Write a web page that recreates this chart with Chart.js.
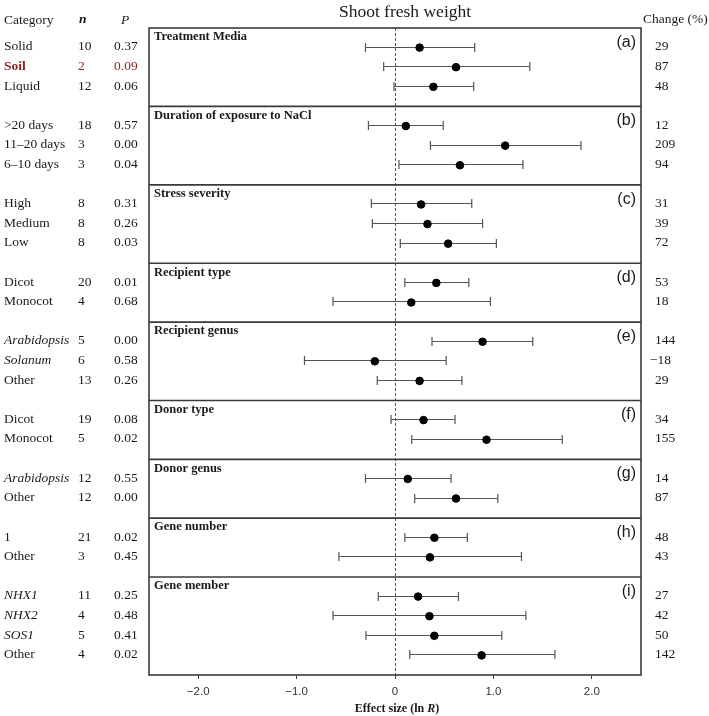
<!DOCTYPE html>
<html>
<head>
<meta charset="utf-8">
<script src="https://cdn.jsdelivr.net/npm/chart.js@4"></script>
<style>
  body { margin: 0; background: #fff; }
</style>
</head>
<body>
<canvas id="chart" width="709" height="716"></canvas>
<script>
// panels of the forest plot
const panelTitles = ['Treatment Media', 'Duration of exposure to NaCl', 'Stress severity', 'Recipient type',
  'Recipient genus', 'Donor type', 'Donor genus', 'Gene number', 'Gene member'];
const panelLetters = ['(a)', '(b)', '(c)', '(d)', '(e)', '(f)', '(g)', '(h)', '(i)'];
const panelSizes = [3, 3, 3, 2, 3, 2, 2, 2, 4];

// one entry per row, top to bottom
const categories = ['Solid', 'Soil', 'Liquid', '>20 days', '11\u201320 days', '6\u201310 days', 'High', 'Medium', 'Low',
  'Dicot', 'Monocot', 'Arabidopsis', 'Solanum', 'Other', 'Dicot', 'Monocot', 'Arabidopsis', 'Other',
  '1', 'Other', 'NHX1', 'NHX2', 'SOS1', 'Other'];
const nValues = [10, 2, 12, 18, 3, 3, 8, 8, 8, 20, 4, 5, 6, 13, 19, 5, 12, 12, 21, 3, 11, 4, 5, 4];
const pValues = ['0.37', '0.09', '0.06', '0.57', '0.00', '0.04', '0.31', '0.26', '0.03', '0.01', '0.68', '0.00',
  '0.58', '0.26', '0.08', '0.02', '0.55', '0.00', '0.02', '0.45', '0.25', '0.48', '0.41', '0.02'];
const effectSize = [0.25, 0.62, 0.39, 0.11, 1.12, 0.66, 0.265, 0.33, 0.54, 0.42, 0.165, 0.89, -0.205, 0.25,
  0.29, 0.93, 0.13, 0.62, 0.40, 0.355, 0.235, 0.35, 0.40, 0.88];
const ciLow = [-0.30, -0.115, -0.01, -0.27, 0.36, 0.04, -0.24, -0.23, 0.054, 0.10, -0.63, 0.376, -0.92, -0.18,
  -0.04, 0.17, -0.30, 0.20, 0.10, -0.57, -0.17, -0.63, -0.295, 0.15];
const ciHigh = [0.81, 1.37, 0.80, 0.49, 1.89, 1.30, 0.78, 0.89, 1.03, 0.75, 0.97, 1.40, 0.52, 0.68,
  0.61, 1.70, 0.57, 1.045, 0.735, 1.285, 0.645, 1.33, 1.085, 1.625];
const changePct = ['29', '87', '48', '12', '209', '94', '31', '39', '72', '53', '18', '144', '\u221218', '29',
  '34', '155', '14', '87', '48', '43', '27', '42', '50', '142'];

// x axis
const xTicks = [-2, -1, 0, 1, 2];
const xTickLabels = ['\u22122.0', '\u22121.0', '0', '1.0', '2.0'];

// styling of some labels
const italicLabels = ['Arabidopsis', 'Solanum', 'NHX1', 'NHX2', 'SOS1'];
const highlightLabel = 'Soil';

// row positions (1 unit = one row slot, panel header takes one slot)
const rowY = [];
const panelBounds = [0];
let pos = 0;
panelSizes.forEach(n => {
  for (let k = 1; k <= n; k++) rowY.push(pos + k);
  pos += n + 1;
  panelBounds.push(pos);
});

const SERIF = '"Liberation Serif", "Times New Roman", serif';
const SANS = '"Liberation Sans", Arial, sans-serif';

const forestPlugin = {
  id: 'forest',
  beforeDatasetsDraw(chart) {
    const { ctx, chartArea: a, scales: { x, y } } = chart;
    ctx.save();
    // zero line
    ctx.strokeStyle = '#555';
    ctx.lineWidth = 1;
    ctx.setLineDash([3, 2]);
    ctx.beginPath();
    ctx.moveTo(Math.round(x.getPixelForValue(0)) + 0.5, a.top);
    ctx.lineTo(Math.round(x.getPixelForValue(0)) + 0.5, a.bottom);
    ctx.stroke();
    ctx.setLineDash([]);
    // whiskers
    ctx.strokeStyle = '#555';
    ctx.lineWidth = 1.2;
    rowY.forEach((r, i) => {
      const py = Math.round(y.getPixelForValue(r)) - 0.5;
      const x1 = x.getPixelForValue(ciLow[i]);
      const x2 = x.getPixelForValue(ciHigh[i]);
      ctx.beginPath();
      ctx.moveTo(x1, py); ctx.lineTo(x2, py);
      ctx.moveTo(x1, py - 4.5); ctx.lineTo(x1, py + 4.5);
      ctx.moveTo(x2, py - 4.5); ctx.lineTo(x2, py + 4.5);
      ctx.stroke();
    });
    ctx.restore();
  },
  afterDatasetsDraw(chart) {
    const { ctx, chartArea: a, scales: { x, y } } = chart;
    ctx.save();
    // panel boxes
    ctx.strokeStyle = '#3a3a3a';
    ctx.lineWidth = 1.6;
    ctx.strokeRect(a.left, a.top, a.right - a.left, a.bottom - a.top);
    panelBounds.slice(1, -1).forEach(b => {
      const py = y.getPixelForValue(b);
      ctx.beginPath();
      ctx.moveTo(a.left, py); ctx.lineTo(a.right, py);
      ctx.stroke();
    });

    ctx.textBaseline = 'middle';
    ctx.fillStyle = '#1a1a1a';
    panelTitles.forEach((t, i) => {
      const top = y.getPixelForValue(panelBounds[i]);
      ctx.font = 'bold 12.5px ' + SERIF;
      ctx.textAlign = 'left';
      ctx.fillText(t, a.left + 5, top + 9);
      ctx.font = '16px ' + SANS;
      ctx.textAlign = 'right';
      ctx.fillText(panelLetters[i], a.right - 5, top + 14.5);
    });

    // left table and change column
    rowY.forEach((r, i) => {
      const py = y.getPixelForValue(r) - 0.8;
      const hl = categories[i] === highlightLabel;
      ctx.fillStyle = hl ? '#8b2323' : '#1a1a1a';
      ctx.textAlign = 'left';
      const it = italicLabels.includes(categories[i]);
      ctx.font = (hl ? 'bold ' : '') + (it ? 'italic ' : '') + '13.5px ' + SERIF;
      ctx.fillText(categories[i], 4, py);
      ctx.font = '13.5px ' + SERIF;
      ctx.fillText(String(nValues[i]), 78, py);
      ctx.fillText(pValues[i], 114, py);
      ctx.fillStyle = '#1a1a1a';
      const c = changePct[i];
      ctx.fillText(c, c.startsWith('\u2212') ? 650 : 655, py);
    });

    // headers
    ctx.fillStyle = '#1a1a1a';
    ctx.textAlign = 'left';
    ctx.font = '13.5px ' + SERIF;
    ctx.fillText('Category', 4, 20);
    ctx.font = 'bold italic 13.5px ' + SERIF;
    ctx.fillText('n', 79, 20);
    ctx.font = 'italic 13.5px ' + SERIF;
    ctx.fillText('P', 121, 20);
    ctx.font = '13.5px ' + SERIF;
    ctx.fillText('Change (%)', 643, 19);
    ctx.textAlign = 'center';
    ctx.font = '17.5px ' + SERIF;
    ctx.fillText('Shoot fresh weight', 405, 12);

    // x axis title with italic R
    const parts = [['Effect size (ln ', 'bold 12px '], ['R', 'bold italic 12px '], [')', 'bold 12px ']];
    let w = 0;
    parts.forEach(p => { ctx.font = p[1] + SERIF; w += ctx.measureText(p[0]).width; });
    let tx = x.getPixelForValue(0) + 2 - w / 2;
    ctx.textAlign = 'left';
    parts.forEach(p => {
      ctx.font = p[1] + SERIF;
      ctx.fillText(p[0], tx, 709);
      tx += ctx.measureText(p[0]).width;
    });
    ctx.restore();
  }
};

new Chart(document.getElementById('chart'), {
  type: 'scatter',
  data: {
    datasets: [{
      data: rowY.map((r, i) => ({ x: effectSize[i], y: r })),
      backgroundColor: '#000',
      borderColor: '#000',
      pointRadius: 3.8,
      pointHoverRadius: 3.8,
    }],
  },
  options: {
    responsive: false,
    animation: false,
    layout: { padding: { left: 149, right: 68, top: 28, bottom: 0 } },
    plugins: { legend: { display: false }, tooltip: { enabled: false } },
    scales: {
      x: {
        type: 'linear',
        min: -2.5,
        max: 2.5,
        afterBuildTicks: (scale) => { scale.ticks = xTicks.map(v => ({ value: v })); },
        afterFit: (scale) => { scale.height = 41; },
        ticks: {
          callback: (v) => xTickLabels[xTicks.indexOf(v)],
          font: { family: SANS, size: 11.5 },
          color: '#333',
          padding: 6,
          maxRotation: 0,
        },
        grid: { drawOnChartArea: false, drawTicks: true, tickLength: 4, color: '#444' },
        border: { display: false },
      },
      y: {
        type: 'linear',
        min: 0,
        max: panelBounds[panelBounds.length - 1],
        reverse: true,
        display: false,
      },
    },
  },
  plugins: [forestPlugin],
});
</script>
</body>
</html>
